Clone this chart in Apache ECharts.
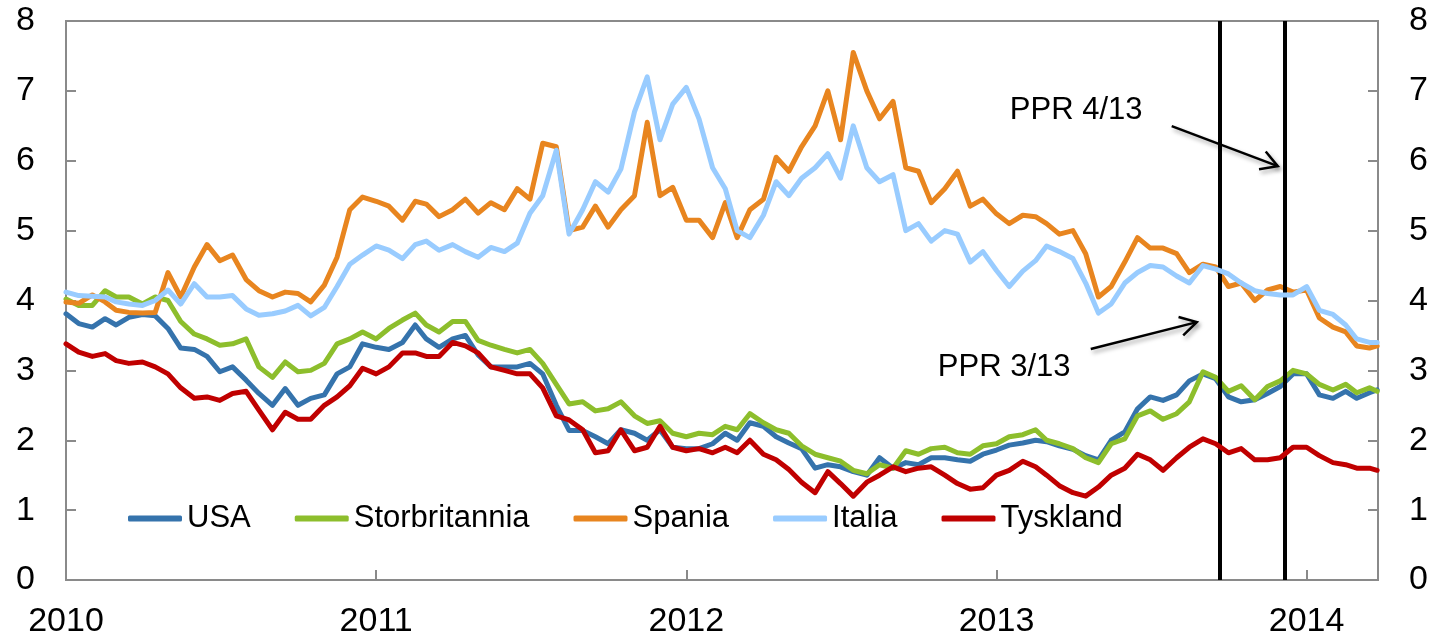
<!DOCTYPE html>
<html>
<head>
<meta charset="utf-8">
<title>Tiårige statsrenter</title>
<script src="https://cdn.jsdelivr.net/npm/echarts@6/dist/echarts.min.js"></script>
<style>
  html, body { margin: 0; padding: 0; background: #fff; }
  #main { width: 1439px; height: 642px; }
</style>
</head>
<body>
<div id="main"></div>
<script>
// observasjoner 1. og 16. i hver måned, jan 2010 - mars 2014
const dates = []
for (let y = 2010; y <= 2014; y++) {
  for (let m = 1; m <= 12; m++) {
    if (y === 2014 && m > 3) break
    const mm = String(m).padStart(2, '0')
    dates.push(y + '-' + mm + '-01', y + '-' + mm + '-16')
  }
}
dates.push('2014-03-25')

// renter i prosent
const usa = [
  3.81, 3.67, 3.62, 3.74, 3.65, 3.76, 3.8, 3.78, 3.6, 3.32, 3.3, 3.2, 2.98, 3.05, 2.86, 2.67, 2.5,
  2.74, 2.5, 2.6, 2.65, 2.95, 3.05, 3.38, 3.33, 3.3, 3.4, 3.65, 3.45, 3.33, 3.45, 3.5, 3.22, 3.05,
  3.05, 3.05, 3.1, 2.95, 2.5, 2.14, 2.14, 2.05, 1.95, 2.15, 2.1, 2.0, 2.15, 1.9, 1.88, 1.88, 1.95,
  2.1, 2.0, 2.25, 2.2, 2.05, 1.96, 1.88, 1.6, 1.65, 1.62, 1.55, 1.5, 1.75, 1.6, 1.68, 1.65, 1.75,
  1.75, 1.72, 1.7, 1.8, 1.86, 1.93, 1.96, 2.0, 1.98, 1.92, 1.87, 1.78, 1.72, 2.0, 2.12, 2.45, 2.62,
  2.57, 2.65, 2.85, 2.95, 2.88, 2.62, 2.55, 2.58, 2.67, 2.77, 2.95, 2.95, 2.65, 2.6, 2.7, 2.6, 2.68, 2.72
]
const storbritannia = [
  4.02, 3.93, 3.93, 4.14, 4.05, 4.05, 3.95, 4.05, 4.0, 3.7, 3.52, 3.45, 3.36, 3.38, 3.45, 3.05, 2.9,
  3.12, 2.98, 3.0, 3.1, 3.38, 3.45, 3.55, 3.45, 3.6, 3.72, 3.82, 3.65, 3.55, 3.7, 3.7, 3.43, 3.36,
  3.3, 3.25, 3.3, 3.1, 2.8, 2.52, 2.55, 2.42, 2.45, 2.55, 2.35, 2.24, 2.28, 2.1, 2.05, 2.1, 2.08,
  2.2, 2.15, 2.38, 2.25, 2.15, 2.1, 1.92, 1.8, 1.75, 1.7, 1.57, 1.52, 1.65, 1.6, 1.85, 1.8, 1.88,
  1.9, 1.82, 1.8, 1.92, 1.95, 2.05, 2.08, 2.15, 2.0, 1.95, 1.88, 1.75, 1.68, 1.95, 2.02, 2.35, 2.42,
  2.3, 2.38, 2.55, 2.98, 2.9, 2.7, 2.78, 2.58, 2.77, 2.85, 3.0, 2.95, 2.8, 2.72, 2.8, 2.68, 2.75, 2.7
]
const spania = [
  3.98, 3.96, 4.08, 3.98, 3.86, 3.83, 3.82, 3.83, 4.4, 4.05, 4.48, 4.8, 4.57, 4.65, 4.3, 4.14, 4.05,
  4.12, 4.1, 3.98, 4.22, 4.62, 5.3, 5.48, 5.42, 5.35, 5.15, 5.42, 5.38, 5.2, 5.3, 5.45, 5.25, 5.4,
  5.3, 5.6, 5.45, 6.25, 6.2, 5.0, 5.05, 5.35, 5.05, 5.3, 5.5, 6.55, 5.5, 5.62, 5.15, 5.15, 4.9,
  5.4, 4.9, 5.3, 5.45, 6.05, 5.85, 6.2, 6.5, 7.0, 6.3, 7.55, 7.0, 6.6, 6.85, 5.9, 5.85, 5.4,
  5.6, 5.85, 5.35, 5.45, 5.24, 5.1, 5.22, 5.2, 5.1, 4.95, 5.0, 4.67, 4.05, 4.2, 4.55, 4.9, 4.75,
  4.75, 4.67, 4.4, 4.52, 4.48, 4.2, 4.25, 4.0, 4.15, 4.2, 4.12, 4.15, 3.75, 3.62, 3.55, 3.35, 3.32, 3.35
]
const italia = [
  4.12, 4.07, 4.06, 4.05, 3.98, 3.95, 3.93, 4.0, 4.15, 3.95, 4.24, 4.05, 4.05, 4.07, 3.88, 3.79, 3.81,
  3.85, 3.93, 3.78, 3.9, 4.2, 4.52, 4.65, 4.78, 4.72, 4.6, 4.8, 4.85, 4.72, 4.8, 4.7, 4.62, 4.76,
  4.7, 4.82, 5.25, 5.5, 6.15, 4.95, 5.3, 5.7, 5.55, 5.88, 6.7, 7.2, 6.3, 6.81, 7.05, 6.6, 5.9,
  5.6, 5.0, 4.9, 5.22, 5.7, 5.5, 5.75, 5.9, 6.1, 5.75, 6.5, 5.9, 5.7, 5.8, 5.0, 5.1, 4.85,
  5.0, 4.95, 4.55, 4.7, 4.43, 4.2, 4.42, 4.57, 4.78, 4.7, 4.6, 4.25, 3.82, 3.95, 4.25, 4.4, 4.5,
  4.48, 4.35, 4.25, 4.5, 4.45, 4.38, 4.25, 4.14, 4.1, 4.08, 4.08, 4.2, 3.86, 3.8, 3.65, 3.45, 3.4, 3.4
]
const tyskland = [
  3.38, 3.26, 3.2, 3.24, 3.14, 3.1, 3.12, 3.05, 2.95, 2.75, 2.6, 2.62, 2.57, 2.67, 2.7, 2.43, 2.15,
  2.4, 2.3, 2.3, 2.5, 2.62, 2.78, 3.03, 2.95, 3.05, 3.25, 3.25, 3.2, 3.2, 3.4, 3.35, 3.25, 3.05,
  3.0, 2.95, 2.95, 2.75, 2.35, 2.29, 2.15, 1.82, 1.85, 2.15, 1.85, 1.9, 2.2, 1.9, 1.85, 1.88, 1.82,
  1.9, 1.82, 2.0, 1.8, 1.72, 1.58, 1.4, 1.25, 1.55, 1.38, 1.2, 1.4, 1.5, 1.62, 1.55, 1.6, 1.62,
  1.5, 1.38, 1.3, 1.32, 1.5, 1.57, 1.7, 1.62, 1.5, 1.35, 1.25, 1.2, 1.33, 1.5, 1.6, 1.8, 1.72,
  1.57, 1.75, 1.9, 2.02, 1.95, 1.82, 1.88, 1.72, 1.72, 1.75, 1.9, 1.9, 1.78, 1.68, 1.65, 1.6, 1.6, 1.57
]

const names = ['USA', 'Storbritannia', 'Spania', 'Italia', 'Tyskland']
const colors = ['#3573ac', '#8dbe2c', '#e8851f', '#99ccff', '#c00000']
const yearLabels = [2010, 2011, 2012, 2013, 2014]
const pprDates = ['2013-09-19', '2013-12-05'] // PPR 3/13 og PPR 4/13

// tekst og piler, i dataenheter (år, prosent)
const notes = [
  { text: 'PPR 4/13', at: [2013.043, 6.72] },
  { text: 'PPR 3/13', at: [2012.811, 3.04] }
]
const arrows = [
  { from: [2013.565, 6.495], to: [2013.907, 5.923] },
  { from: [2013.304, 3.305], to: [2013.646, 3.691] }
]

// dato -> desimalår
const toYear = s => {
  const [y, m, d] = s.split('-').map(Number)
  const start = Date.UTC(y, 0, 1)
  const end = Date.UTC(y + 1, 0, 1)
  return y + (Date.UTC(y, m - 1, d) - start) / (end - start)
}

const font = 'Liberation Sans, Arial, sans-serif'
const axisGray = '#8a8a8a'
const chart = echarts.init(document.getElementById('main'))

const yAxisBase = {
  type: 'value',
  min: 0,
  max: 8,
  interval: 1,
  splitLine: { show: false },
  axisLine: { show: true, lineStyle: { color: axisGray, width: 2 } },
  axisTick: { show: true, inside: true, length: 10, lineStyle: { color: axisGray, width: 2 } },
  axisLabel: { color: '#000', fontSize: 34, fontFamily: font, margin: 31 }
}

const allSeries = [usa, storbritannia, spania, italia, tyskland].map((vals, i) => ({
  name: names[i],
  type: 'line',
  data: dates.map((d, j) => [toYear(d), vals[j]]),
  showSymbol: false,
  symbol: 'none',
  lineStyle: { color: colors[i], width: 5, cap: 'round', join: 'round' },
  itemStyle: { color: colors[i] },
  z: 2 + i
}))

// vertikale linjer ved publiseringsdatoene
allSeries[4].markLine = {
  silent: true,
  symbol: ['none', 'none'],
  label: { show: false },
  lineStyle: { color: '#000', width: 4, type: 'solid' },
  data: pprDates.map(d => ({ xAxis: toYear(d) }))
}

chart.setOption({
  animation: false,
  backgroundColor: '#fff',
  grid: {
    left: 66, right: 61, top: 21, bottom: 62,
    show: true, borderColor: axisGray, borderWidth: 2
  },
  legend: {
    data: names,
    left: 128,
    top: 503,
    padding: 0,
    itemGap: 44,
    itemWidth: 54,
    itemHeight: 6,
    icon: 'roundRect',
    textStyle: { color: '#000', fontSize: 31, fontFamily: font }
  },
  xAxis: {
    type: 'value',
    min: 2010,
    max: toYear('2014-03-26'),
    interval: 1,
    splitLine: { show: false },
    axisLine: { lineStyle: { color: axisGray, width: 2 } },
    axisTick: { inside: true, length: 10, lineStyle: { color: axisGray, width: 2 } },
    axisLabel: {
      color: '#000', fontSize: 34, fontFamily: font, margin: 25,
      formatter: v => (yearLabels.includes(v) ? String(v) : '')
    }
  },
  yAxis: [
    Object.assign({}, yAxisBase, { position: 'left' }),
    Object.assign({}, yAxisBase, { position: 'right' })
  ],
  series: allSeries
})

// annotasjoner plasseres via aksene
const px = p => chart.convertToPixel({ gridIndex: 0 }, p)
const graphics = []
notes.forEach(n => {
  const [x, y] = px(n.at)
  graphics.push({
    type: 'text', x: x, y: y, z: 20,
    style: { text: n.text, fill: '#000', font: '31px ' + font, textAlign: 'left', textVerticalAlign: 'middle' }
  })
})
const arrowStyle = {
  stroke: '#000', lineWidth: 2.5, fill: null,
  shadowColor: 'rgba(0,0,0,0.35)', shadowBlur: 4, shadowOffsetX: 2, shadowOffsetY: 3
}
arrows.forEach(a => {
  const p0 = px(a.from)
  const p1 = px(a.to)
  const ang = Math.atan2(p1[1] - p0[1], p1[0] - p0[0])
  const len = 19, spread = Math.PI / 6
  const h1 = [p1[0] - len * Math.cos(ang - spread), p1[1] - len * Math.sin(ang - spread)]
  const h2 = [p1[0] - len * Math.cos(ang + spread), p1[1] - len * Math.sin(ang + spread)]
  graphics.push({ type: 'polyline', z: 20, shape: { points: [p0, p1] }, style: arrowStyle })
  graphics.push({ type: 'polyline', z: 20, shape: { points: [h1, p1, h2] }, style: arrowStyle })
})
chart.setOption({ graphic: graphics })
</script>
</body>
</html>
